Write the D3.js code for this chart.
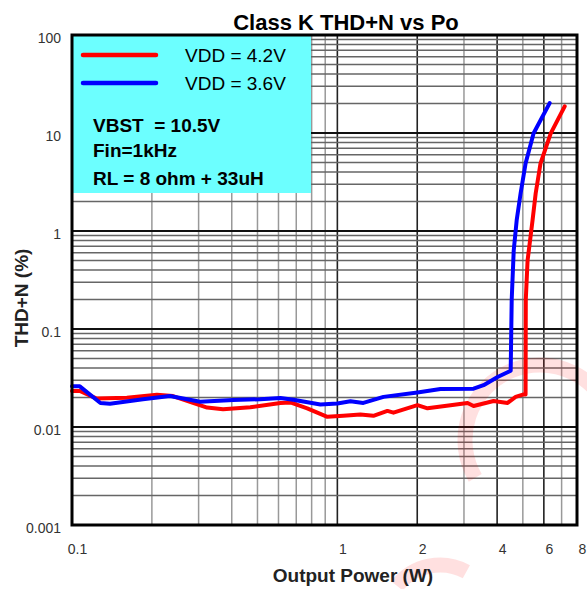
<!DOCTYPE html>
<html><head><meta charset="utf-8">
<script src="https://cdn.jsdelivr.net/npm/d3@7"></script>
<style>
html,body{margin:0;padding:0;background:#fff;}
svg{display:block;font-family:"Liberation Sans",Arial,sans-serif;}
</style></head>
<body><svg id="c" width="587" height="589"></svg>
<script>
// ---- data ----
const seriesNames = ["VDD = 4.2V", "VDD = 3.6V"];
const seriesColors = ["#ff0000", "#0000ff"];
const redPower = [0.1, 0.107, 0.124, 0.161, 0.209, 0.24, 0.323, 0.371, 0.47, 0.61, 0.665, 0.77, 0.917, 1.053, 1.221, 1.367, 1.544, 1.627, 2.004, 2.186, 2.669, 3.095, 3.261, 3.879, 4.381, 4.696, 5.033, 5.12, 5.13, 5.21, 5.44, 5.59, 5.83, 6.37, 7.19];
const redTHD   = [0.0233, 0.0233, 0.0195, 0.0199, 0.0213, 0.0207, 0.0158, 0.0152, 0.0159, 0.0176, 0.0178, 0.0155, 0.0127, 0.013, 0.0134, 0.013, 0.0146, 0.014, 0.0167, 0.0155, 0.0167, 0.0176, 0.0164, 0.0184, 0.0176, 0.0203, 0.0215, 0.0215, 0.2, 0.5, 1.285, 2.43, 4.91, 9.93, 18.7];
const bluePower = [0.1, 0.107, 0.128, 0.139, 0.185, 0.234, 0.304, 0.405, 0.512, 0.61, 0.682, 0.863, 1.0, 1.12, 1.253, 1.492, 2.004, 2.447, 3.261, 3.556, 4.016, 4.5, 4.54, 4.62, 4.74, 4.905, 5.122, 5.49, 6.31];
const blueTHD   = [0.026, 0.026, 0.0176, 0.0173, 0.0192, 0.0207, 0.0181, 0.0189, 0.0192, 0.0198, 0.019, 0.017, 0.0174, 0.0183, 0.0176, 0.0203, 0.0225, 0.0244, 0.0246, 0.0267, 0.0324, 0.0375, 0.2, 0.635, 1.285, 2.43, 4.91, 9.93, 20.2];
const xTickValues = [0.1, 1, 2, 4, 6, 8];
const xTickLabels = ["0.1", "1", "2", "4", "6", "8"];
const yTickValues = [0.001, 0.01, 0.1, 1, 10, 100];
const yTickLabels = ["0.001", "0.01", "0.1", "1", "10", "100"];
const conditionLines = ["VBST  = 10.5V", "Fin=1kHz", "RL = 8 ohm + 33uH"];
const titleText = "Class K THD+N vs Po";
const xTitle = "Output Power (W)";
const yTitle = "THD+N (%)";

// ---- layout ----
const L = 72, R = 577, T = 35, B = 525;
const svg = d3.select("#c");
const x = d3.scaleLog().domain([0.1, 8]).range([L, R]);
const y = d3.scaleLog().domain([0.001, 100]).range([B, T]);

// grid
const g = svg.append("g");
const xMinor = [];
[0.1, 1].forEach(d => { for (let k = 1; k <= 9; k++) { const v = d * k; if (v <= 8.0001) xMinor.push(v); } });
const yMinor = [];
[0.001, 0.01, 0.1, 1, 10].forEach(d => { for (let k = 1; k <= 9; k++) yMinor.push(d * k); });
const darkX = [1, 2, 4, 6];
const isDarkX = d => darkX.some(v => Math.abs(v - d) < 1e-6);
const isDecade = d => yTickValues.some(v => Math.abs(v / d - 1) < 1e-6);
g.selectAll("line.vx").data(xMinor.filter(v => v > 0.1001 && v < 7.999)).join("line")
  .attr("x1", d => x(d)).attr("x2", d => x(d)).attr("y1", T).attr("y2", B)
  .attr("stroke", d => isDarkX(d) ? "#222" : "#999")
  .attr("stroke-width", d => isDarkX(d) ? 1.6 : 1.5);
g.selectAll("line.hy").data(yMinor.filter(v => v > 0.00101)).join("line")
  .attr("x1", L).attr("x2", R).attr("y1", d => y(d)).attr("y2", d => y(d))
  .attr("stroke", d => isDecade(d) ? "#111" : "#666")
  .attr("stroke-width", d => isDecade(d) ? 2 : 1.4);

// watermark (decoration, faint)
const wm = svg.append("g").attr("fill", "none").attr("stroke", "#ff0000").attr("stroke-opacity", 0.12).attr("stroke-width", 15);
wm.append("path").attr("d", d3.arc()({innerRadius: 75, outerRadius: 75, startAngle: -2.1, endAngle: 1.3})).attr("transform", "translate(540,440)");
wm.append("path").attr("d", d3.arc()({innerRadius: 55, outerRadius: 55, startAngle: -0.9, endAngle: 0.5})).attr("transform", "translate(440,620)");

// legend box
svg.append("rect").attr("x", L).attr("y", T).attr("width", 311 - L).attr("height", 193 - T).attr("fill", "#6cffff");

// curves
const line = d3.line().x(d => x(d[0])).y(d => y(d[1]));
const redData = redPower.map((p, i) => [p, redTHD[i]]);
const blueData = bluePower.map((p, i) => [p, blueTHD[i]]);
[redData, blueData].forEach((dat, i) => {
  svg.append("path").datum(dat).attr("d", line).attr("fill", "none").attr("stroke", seriesColors[i])
    .attr("stroke-width", 4).attr("stroke-linejoin", "round").attr("stroke-linecap", "round");
});

// frame
svg.append("rect").attr("x", L).attr("y", T).attr("width", R - L).attr("height", B - T)
  .attr("fill", "none").attr("stroke", "#000").attr("stroke-width", 3);

// legend
const leg = svg.append("g");
seriesNames.forEach((n, i) => {
  const yy = 55 + i * 28;
  leg.append("line").attr("x1", 83).attr("x2", 156).attr("y1", yy).attr("y2", yy)
    .attr("stroke", seriesColors[i]).attr("stroke-width", 4.5).attr("stroke-linecap", "round");
  leg.append("text").attr("x", 185).attr("y", yy + 7).attr("font-size", 19).attr("fill", "#000").text(n);
});
conditionLines.forEach((t, i) => {
  leg.append("text").attr("x", 93).attr("y", [132, 157, 185][i]).attr("font-size", 19)
    .attr("font-weight", "bold").attr("fill", "#000").style("white-space", "pre").text(t);
});

// axes labels
const xAxis = d3.axisBottom(x).tickValues(xTickValues).tickFormat((d, i) => xTickLabels[i]).tickSize(0).tickPadding(0);
const xa = svg.append("g").attr("transform", `translate(5,${B})`).call(xAxis);
xa.select(".domain").remove();
xa.selectAll("text").attr("font-size", 14).attr("fill", "#333").attr("dy", "0").attr("y", 29).style("font-family", "Liberation Sans, Arial, sans-serif");
const yAxis = d3.axisLeft(y).tickValues(yTickValues).tickFormat((d, i) => yTickLabels[i]).tickSize(0).tickPadding(0);
const ya = svg.append("g").attr("transform", `translate(61,3)`).call(yAxis);
ya.select(".domain").remove();
ya.selectAll("text").attr("font-size", 14).attr("fill", "#333").style("font-family", "Liberation Sans, Arial, sans-serif");

// titles
svg.append("text").attr("x", 346).attr("y", 30).attr("text-anchor", "middle").attr("font-size", 22).attr("font-weight", "bold").text(titleText);
svg.append("text").attr("x", 353).attr("y", 582).attr("text-anchor", "middle").attr("font-size", 19).attr("font-weight", "bold").attr("fill", "#222").text(xTitle);
svg.append("text").attr("transform", "translate(28,298) rotate(-90)").attr("text-anchor", "middle").attr("font-size", 19).attr("font-weight", "bold").attr("fill", "#222").text(yTitle);
</script></body></html>
